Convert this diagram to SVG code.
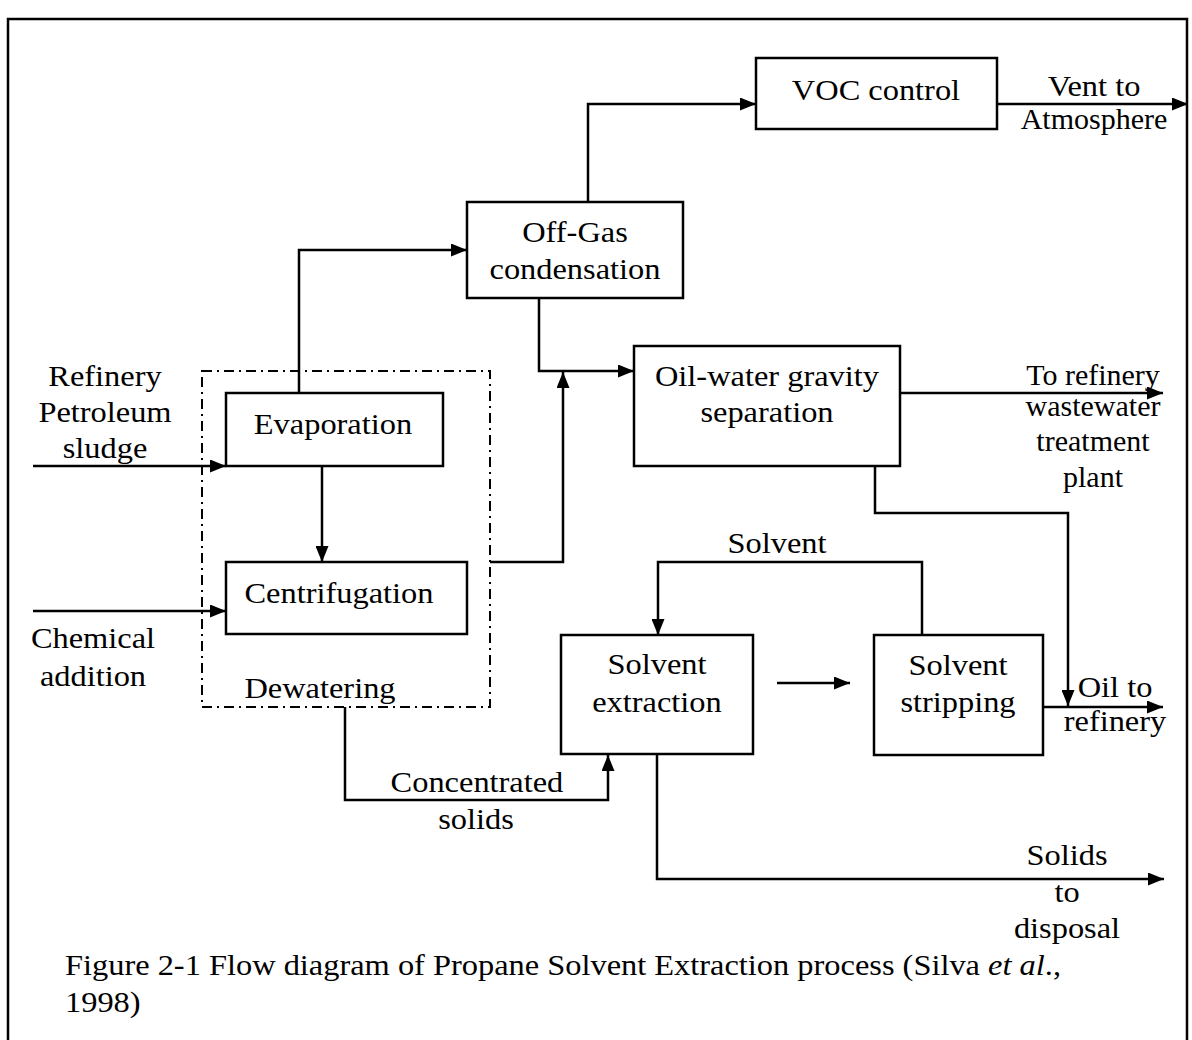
<svg xmlns="http://www.w3.org/2000/svg" width="1192" height="1040" viewBox="0 0 1192 1040">
<defs>
<marker id="ah" viewBox="0 0 16 13" refX="16" refY="6.5" markerWidth="16" markerHeight="13" markerUnits="userSpaceOnUse" orient="auto">
<path d="M0,0 L16,6.5 L0,13 Z" fill="#000"/>
</marker>
<style>
.box{fill:#fff;stroke:#000;stroke-width:2.5}
.dash{fill:none;stroke:#000;stroke-width:2;stroke-dasharray:10 5 2 5}
.ln{fill:none;stroke:#000;stroke-width:2.5}
.ar{fill:none;stroke:#000;stroke-width:2.5;marker-end:url(#ah)}
text{font-family:"Liberation Serif","Times New Roman",serif;font-size:30px;fill:#000;transform-box:fill-box;transform-origin:center;transform:scaleX(1.08)}
.c{text-anchor:middle}
.ns{transform:none}
.cap{transform-origin:left center}
</style>
</defs>
<rect x="0" y="0" width="1192" height="1040" fill="#fff"/>
<path d="M8,1040 L8,19 L1187,19 L1187,1040" fill="none" stroke="#000" stroke-width="2.5"/>

<g id="connectors">
<path class="ar" d="M299,393 L299,250 L467,250"/>
<path class="ar" d="M588,202 L588,104 L756,104"/>
<path class="ar" d="M997,104 L1188,104"/>
<path class="ar" d="M539,298 L539,371 L634,371"/>
<path class="ar" d="M490,562 L563,562 L563,372"/>
<path class="ar" d="M900,393 L1163,393"/>
<path class="ar" d="M875,466 L875,513 L1068,513 L1068,706"/>
<path class="ar" d="M1043,707 L1163,707"/>
<path class="ar" d="M922,635 L922,562 L658,562 L658,635"/>
<path class="ar" d="M777,683 L850,683"/>
<path class="ar" d="M345,707 L345,800 L608,800 L608,755"/>
<path class="ar" d="M657,754 L657,879 L1164,879"/>
<path class="ar" d="M33,466 L226,466"/>
<path class="ar" d="M33,611 L226,611"/>
<path class="ar" d="M322,466 L322,562"/>
</g>

<g id="dewatering">
<rect class="dash" x="202" y="371" width="288" height="336"/>
<text class="c" x="320" y="698">Dewatering</text>
</g>

<g id="voc-control">
<rect class="box" x="756" y="58" width="241" height="71"/>
<text class="c" x="876" y="100">VOC control</text>
</g>

<g id="off-gas">
<rect class="box" x="467" y="202" width="216" height="96"/>
<text class="c" x="575" y="242">Off-Gas</text>
<text class="c" x="575" y="279">condensation</text>
</g>

<g id="oil-water">
<rect class="box" x="634" y="346" width="266" height="120"/>
<text class="c" x="767" y="386">Oil-water gravity</text>
<text class="c" x="767" y="422">separation</text>
</g>

<g id="evaporation">
<rect class="box" x="226" y="393" width="217" height="73"/>
<text class="c" x="333" y="434">Evaporation</text>
</g>

<g id="centrifugation">
<rect class="box" x="226" y="562" width="241" height="72"/>
<text class="c" x="339" y="603">Centrifugation</text>
</g>

<g id="solvent-extraction">
<rect class="box" x="561" y="635" width="192" height="119"/>
<text class="c" x="657" y="674">Solvent</text>
<text class="c" x="657" y="712">extraction</text>
</g>

<g id="solvent-stripping">
<rect class="box" x="874" y="635" width="169" height="120"/>
<text class="c" x="958" y="675">Solvent</text>
<text class="c" x="958" y="712">stripping</text>
</g>

<g id="labels">
<text class="c" x="1094" y="96">Vent to</text>
<text class="c ns" x="1094" y="129">Atmosphere</text>
<text class="c ns" x="1093" y="385">To refinery</text>
<text class="c ns" x="1093" y="416">wastewater</text>
<text class="c ns" x="1093" y="451">treatment</text>
<text class="c ns" x="1093" y="487">plant</text>
<text class="c" x="105" y="386">Refinery</text>
<text class="c" x="105" y="422">Petroleum</text>
<text class="c" x="105" y="458">sludge</text>
<text class="c" x="93" y="648">Chemical</text>
<text class="c" x="93" y="686">addition</text>
<text class="c" x="777" y="553">Solvent</text>
<text class="c" x="1115" y="697">Oil to</text>
<text class="c" x="1115" y="731">refinery</text>
<text class="c" x="477" y="792">Concentrated</text>
<text class="c" x="476" y="829">solids</text>
<text class="c" x="1067" y="865">Solids</text>
<text class="c" x="1067" y="902">to</text>
<text class="c" x="1067" y="938">disposal</text>
</g>

<g id="caption">
<text class="cap" x="65" y="975">Figure 2-1 Flow diagram of Propane Solvent Extraction process (Silva <tspan font-style="italic">et al</tspan>.,</text>
<text class="cap" x="65" y="1012">1998)</text>
</g>
</svg>
